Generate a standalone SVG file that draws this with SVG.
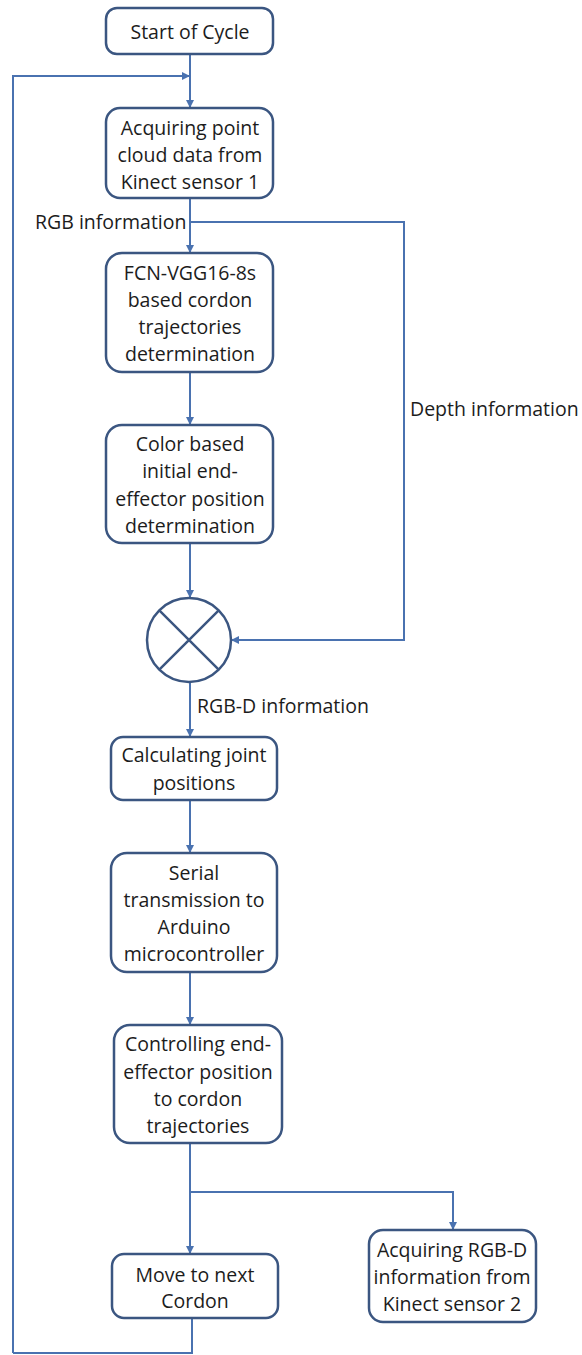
<svg xmlns="http://www.w3.org/2000/svg" width="582" height="1355" viewBox="0 0 582 1355">
  <defs>
    <marker id="arrow" viewBox="0 0 10 10" refX="10" refY="5" markerWidth="8" markerHeight="8" markerUnits="userSpaceOnUse" orient="auto">
      <path d="M0,0 L10,5 L0,10 z" fill="#4a72b0"/>
    </marker>
    <style>
      .box { fill: #ffffff; stroke: #3b5681; stroke-width: 2.5; }
      .conn { fill: none; stroke: #4a72b0; stroke-width: 2; }
      .arr { marker-end: url(#arrow); }
      text { font-family: "Open Sans", "Noto Sans", "Liberation Sans", sans-serif; font-size: 19.5px; fill: #1c1c1c; }
      .c { text-anchor: middle; dominant-baseline: central; }
      .l { text-anchor: start; dominant-baseline: central; }
    </style>
  </defs>

  <rect width="582" height="1355" fill="#ffffff"/>

  <!-- connectors -->
  <g id="connectors">
    <path class="conn arr" d="M190,54 V108"/>
    <path class="conn arr" d="M13,1353 V76 H190"/>
    <path class="conn arr" d="M190,198 V253"/>
    <path class="conn arr" d="M190,222 H404 V640 H231"/>
    <path class="conn arr" d="M190,372 V425"/>
    <path class="conn arr" d="M190,543 V598"/>
    <path class="conn arr" d="M190,682 V737"/>
    <path class="conn arr" d="M190,800 V853"/>
    <path class="conn arr" d="M190,972 V1025"/>
    <path class="conn arr" d="M190,1143 V1254"/>
    <path class="conn arr" d="M190,1192 H453 V1230"/>
    <path class="conn" d="M192,1318 V1353 H13"/>
  </g>

  <!-- edge labels -->
  <g id="labels">
    <text class="l" x="35" y="221">RGB information</text>
    <text class="l" x="410" y="408">Depth information</text>
    <text class="l" x="197" y="705">RGB-D information</text>
  </g>

  <g id="start">
    <rect class="box" x="106" y="8" width="167" height="46" rx="11"/>
    <text class="c" x="190" y="31">Start of Cycle</text>
  </g>

  <g id="acquire1">
    <rect class="box" x="106" y="108" width="167" height="90" rx="14"/>
    <text class="c" x="190" y="127">Acquiring point</text>
    <text class="c" x="190" y="154">cloud data from</text>
    <text class="c" x="190" y="181">Kinect sensor 1</text>
  </g>

  <g id="fcn">
    <rect class="box" x="106" y="253" width="167" height="119" rx="16"/>
    <text class="c" x="190" y="272">FCN-VGG16-8s</text>
    <text class="c" x="190" y="299">based cordon</text>
    <text class="c" x="190" y="326">trajectories</text>
    <text class="c" x="190" y="353">determination</text>
  </g>

  <g id="color">
    <rect class="box" x="106" y="425" width="167" height="118" rx="16"/>
    <text class="c" x="190" y="443">Color based</text>
    <text class="c" x="190" y="470">initial end-</text>
    <text class="c" x="190" y="498">effector position</text>
    <text class="c" x="190" y="525">determination</text>
  </g>

  <g id="combine">
    <circle class="box" cx="189" cy="640" r="42"/>
    <path d="M159.3,610.3 L218.7,669.7 M218.7,610.3 L159.3,669.7" fill="none" stroke="#3b5681" stroke-width="2.5"/>
  </g>

  <g id="joints">
    <rect class="box" x="111" y="737" width="166" height="63" rx="12"/>
    <text class="c" x="194" y="754">Calculating joint</text>
    <text class="c" x="194" y="782">positions</text>
  </g>

  <g id="serial">
    <rect class="box" x="111" y="853" width="166" height="119" rx="16"/>
    <text class="c" x="194" y="872">Serial</text>
    <text class="c" x="194" y="899">transmission to</text>
    <text class="c" x="194" y="926">Arduino</text>
    <text class="c" x="194" y="953">microcontroller</text>
  </g>

  <g id="control">
    <rect class="box" x="114" y="1025" width="168" height="118" rx="16"/>
    <text class="c" x="198" y="1043">Controlling end-</text>
    <text class="c" x="198" y="1071">effector position</text>
    <text class="c" x="198" y="1098">to cordon</text>
    <text class="c" x="198" y="1125">trajectories</text>
  </g>

  <g id="next">
    <rect class="box" x="112" y="1254" width="166" height="64" rx="12"/>
    <text class="c" x="195" y="1274">Move to next</text>
    <text class="c" x="195" y="1300">Cordon</text>
  </g>

  <g id="acquire2">
    <rect class="box" x="369" y="1230" width="167" height="92" rx="14"/>
    <text class="c" x="452" y="1249">Acquiring RGB-D</text>
    <text class="c" x="452" y="1276">information from</text>
    <text class="c" x="452" y="1303">Kinect sensor 2</text>
  </g>
</svg>
